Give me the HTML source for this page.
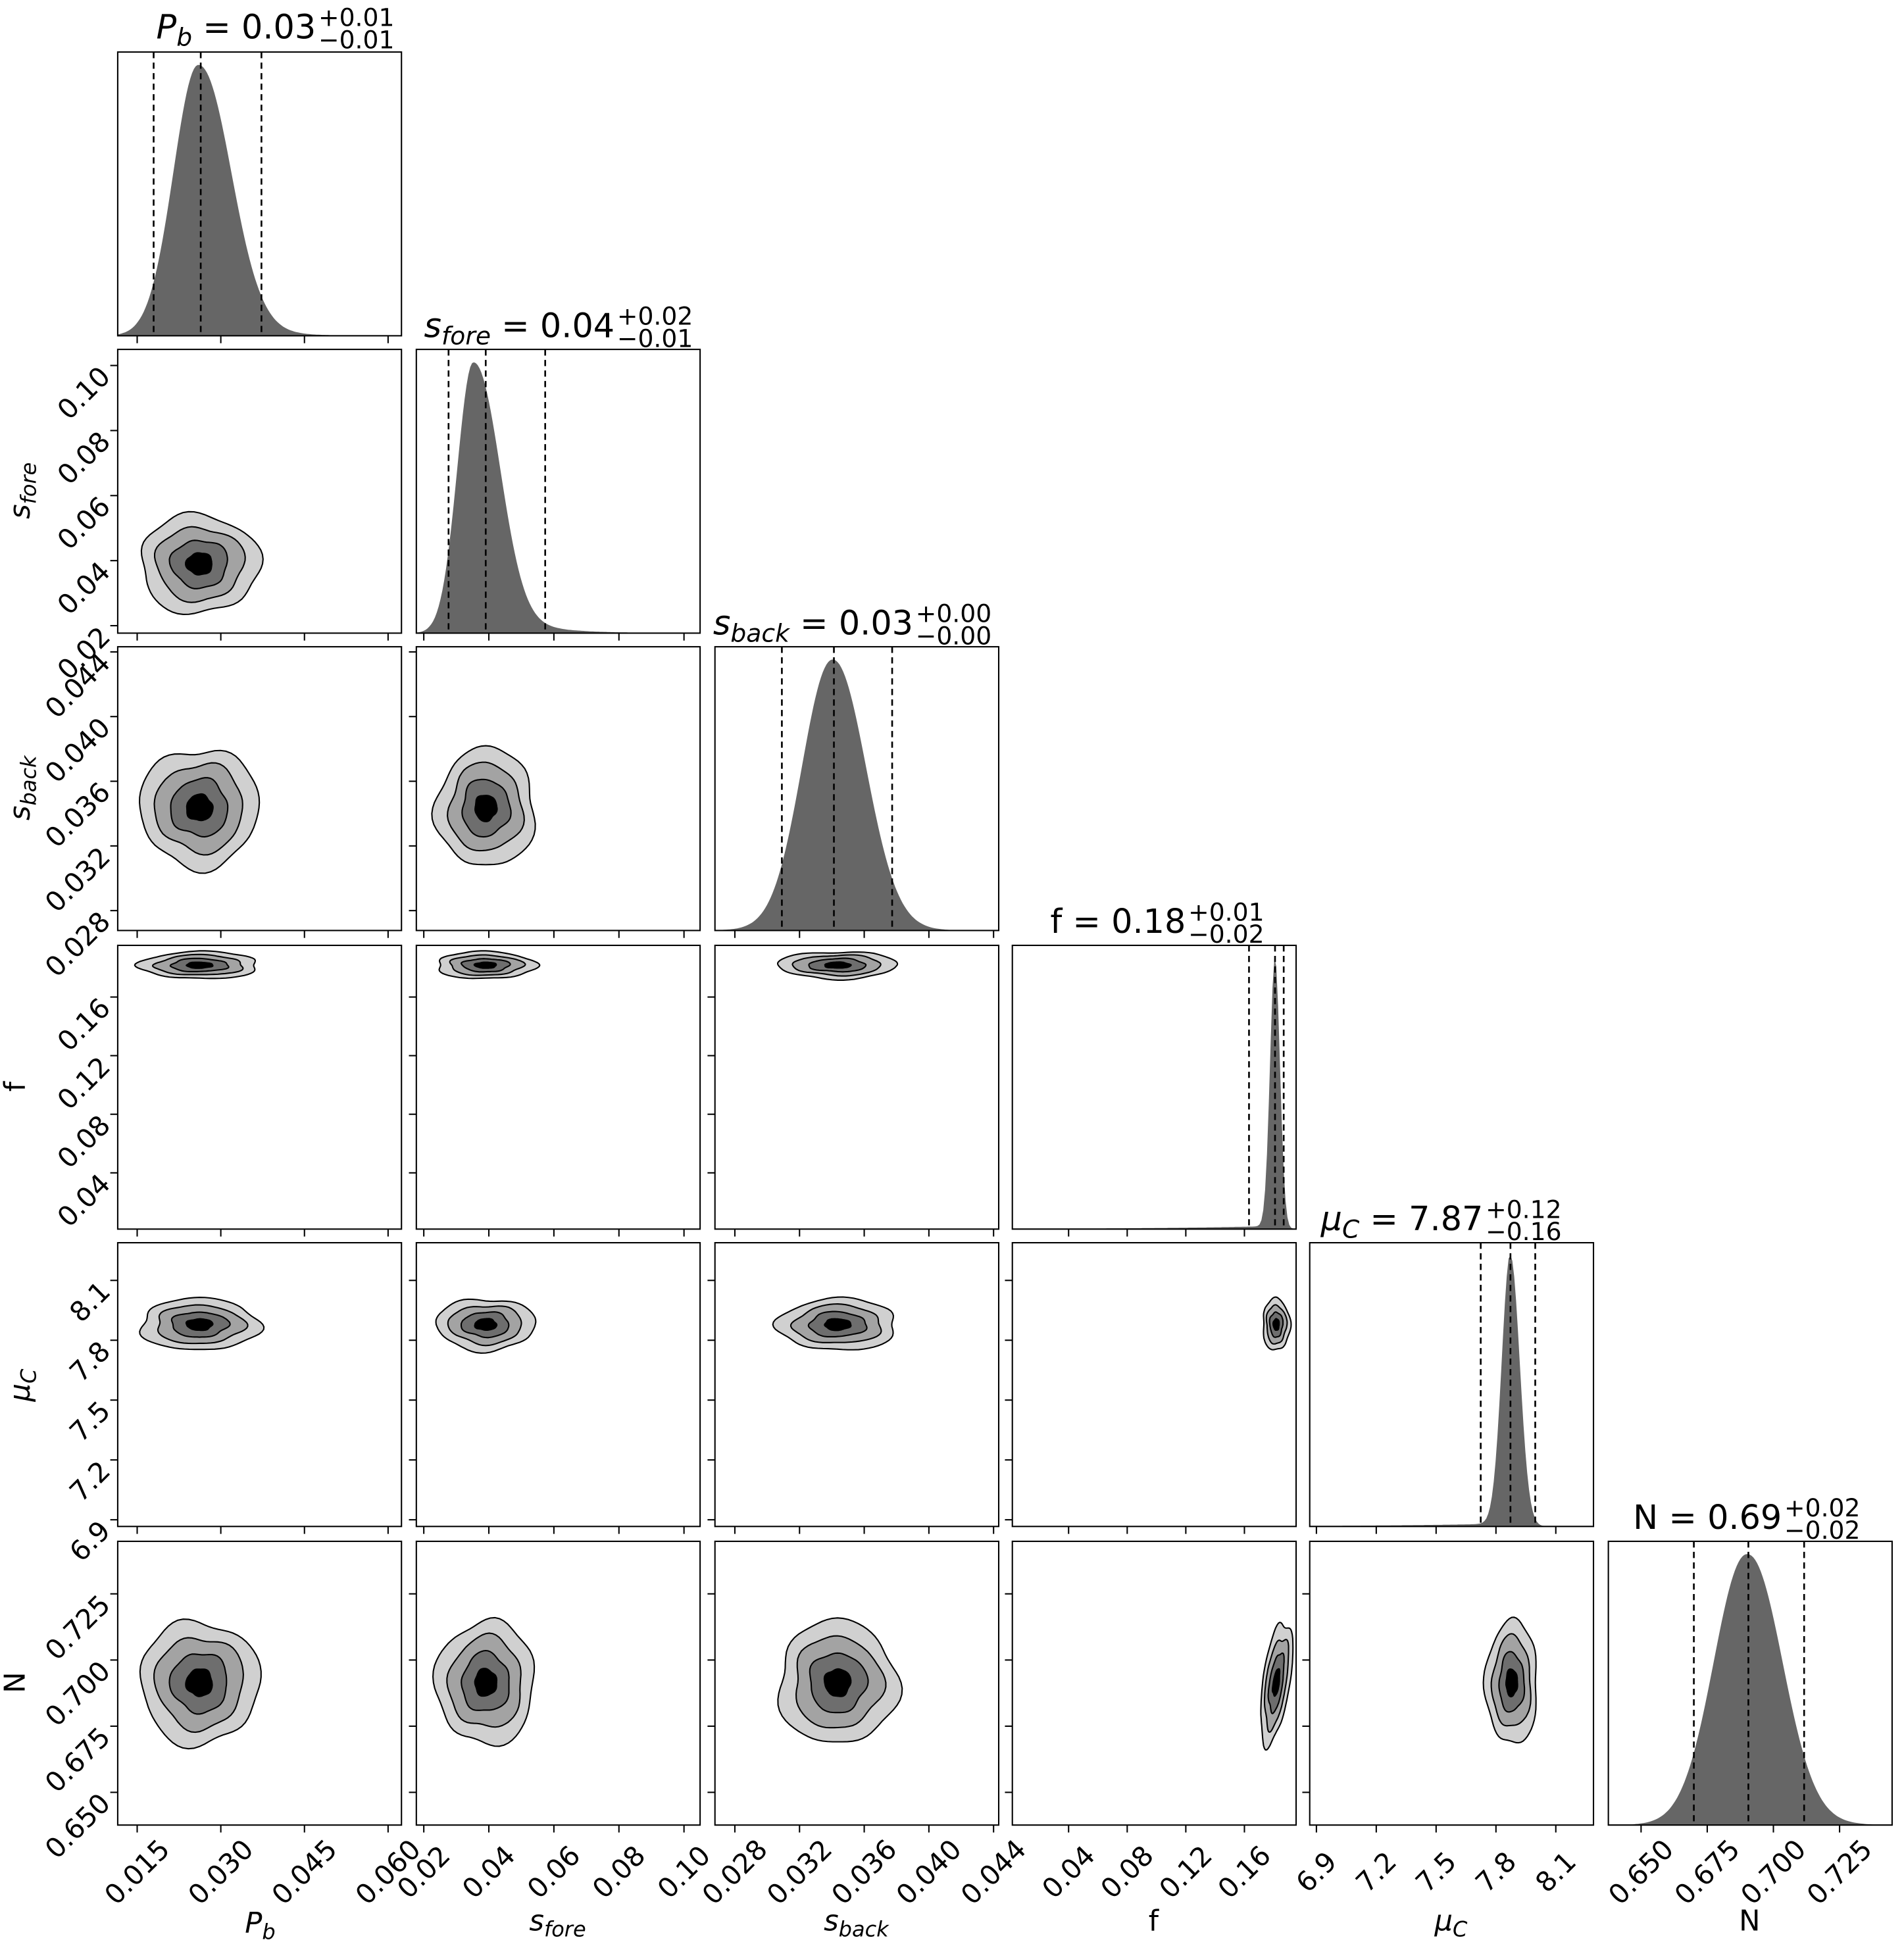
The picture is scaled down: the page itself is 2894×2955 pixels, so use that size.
<!DOCTYPE html>
<html><head><meta charset="utf-8"><style>
html,body{margin:0;padding:0;background:#fff;}
svg{display:block;font-family:"DejaVu Sans","Liberation Sans",sans-serif;}
</style></head><body>
<svg id="s" width="2894" height="2955" viewBox="0 0 1536.6 1569" preserveAspectRatio="none" xmlns="http://www.w3.org/2000/svg">
<rect x="0" y="0" width="1537" height="1570" fill="#fff"/>
<g id="g"></g>
<g font-size="27" fill="#000">
<text x="255" y="31" text-anchor="end"><tspan font-style="italic">P</tspan><tspan font-style="italic" font-size="20" dy="6">b</tspan><tspan dy="-6"> = 0.03</tspan></text>
<text x="257" y="21" font-size="20">+0.01</text><text x="257" y="39" font-size="20">−0.01</text>
<text x="496" y="272" text-anchor="end"><tspan font-style="italic">s</tspan><tspan font-style="italic" font-size="20" dy="6">fore</tspan><tspan dy="-6"> = 0.04</tspan></text>
<text x="498" y="262" font-size="20">+0.02</text><text x="498" y="280" font-size="20">−0.01</text>
<text x="737" y="512" text-anchor="end"><tspan font-style="italic">s</tspan><tspan font-style="italic" font-size="20" dy="6">back</tspan><tspan dy="-6"> = 0.03</tspan></text>
<text x="739" y="502" font-size="20">+0.00</text><text x="739" y="520" font-size="20">−0.00</text>
<text x="957" y="753" text-anchor="end">f = 0.18</text>
<text x="959" y="743" font-size="20">+0.01</text><text x="959" y="761" font-size="20">−0.02</text>
<text x="1197" y="993" text-anchor="end"><tspan font-style="italic">μ</tspan><tspan font-style="italic" font-size="20" dy="6">C</tspan><tspan dy="-6"> = 7.87</tspan></text>
<text x="1199" y="983" font-size="20">+0.12</text><text x="1199" y="1001" font-size="20">−0.16</text>
<text x="1438" y="1234" text-anchor="end">N = 0.69</text>
<text x="1440" y="1224" font-size="20">+0.02</text><text x="1440" y="1242" font-size="20">−0.02</text>
</g>
<g font-size="23" fill="#000">
<text x="210" y="1560" text-anchor="middle"><tspan font-style="italic">P</tspan><tspan font-style="italic" font-size="17" dy="5">b</tspan></text>
<text x="450" y="1558" text-anchor="middle"><tspan font-style="italic">s</tspan><tspan font-style="italic" font-size="17" dy="5">fore</tspan></text>
<text x="691" y="1558" text-anchor="middle"><tspan font-style="italic">s</tspan><tspan font-style="italic" font-size="17" dy="5">back</tspan></text>
<text x="931" y="1558" text-anchor="middle">f</text>
<text x="1171" y="1558" text-anchor="middle"><tspan font-style="italic">μ</tspan><tspan font-style="italic" font-size="17" dy="5">C</tspan></text>
<text x="1412" y="1558" text-anchor="middle">N</text>
<text transform="translate(24,396) rotate(-90)" text-anchor="middle"><tspan font-style="italic">s</tspan><tspan font-style="italic" font-size="17" dy="5">fore</tspan></text>
<text transform="translate(24,636) rotate(-90)" text-anchor="middle"><tspan font-style="italic">s</tspan><tspan font-style="italic" font-size="17" dy="5">back</tspan></text>
<text transform="translate(20,877) rotate(-90)" text-anchor="middle">f</text>
<text transform="translate(24,1118) rotate(-90)" text-anchor="middle"><tspan font-style="italic">μ</tspan><tspan font-style="italic" font-size="17" dy="5">C</tspan></text>
<text transform="translate(20,1358) rotate(-90)" text-anchor="middle">N</text>
</g>
</svg>
<script>
var NS="http://www.w3.org/2000/svg",g=document.getElementById("g");
function el(t,a){var e=document.createElementNS(NS,t);for(var k in a)e.setAttribute(k,a[k]);g.appendChild(e);return e;}
var L=[95,336,577,817,1057,1298],T=[42,282,522,763,1003,1244],S=229;
var V=[
{lo:0.01151,sc:4500,ticks:[0.015,0.030,0.045,0.060],lab:["0.015","0.030","0.045","0.060"],p:65,sL:20,sR:25,rt:0.06,rtl:25,lt:0,dash:[124,162,211],c:66,R:48},
{lo:0.01771,sc:2625,ticks:[0.02,0.04,0.06,0.08,0.10],lab:["0.02","0.04","0.06","0.08","0.10"],p:46,sL:13,sR:20,rt:0.08,rtl:30,lt:0,dash:[362,392,440],c:56,R:40},
{lo:0.02677,sc:13050,ticks:[0.028,0.032,0.036,0.040,0.044],lab:["0.028","0.032","0.036","0.040","0.044"],p:95,sL:24,sR:26,rt:0.03,rtl:20,lt:0.03,dash:[631,673,720],c:99,R:48},
{lo:0.00161,sc:1182.5,ticks:[0.04,0.08,0.12,0.16],lab:["0.04","0.08","0.12","0.16"],p:212,sL:4,sR:4,rt:0,rtl:1,lt:1,dash:[1008,1029,1036],c:213,R:11},
{lo:6.8665,sc:161,ticks:[6.9,7.2,7.5,7.8,8.1],lab:["6.9","7.2","7.5","7.8","8.1"],p:162,sL:7,sR:7.5,rt:0,rtl:1,lt:1,dash:[1195,1219,1239],c:163,R:21},
{lo:0.63764,sc:2136,ticks:[0.650,0.675,0.700,0.725],lab:["0.650","0.675","0.700","0.725"],p:112,sL:26,sR:27,rt:0.05,rtl:22,lt:0.03,dash:[1367,1411,1456],c:115,R:50}
];
function pos(v,x){return (x-v.lo)*v.sc;}
for(var i=0;i<6;i++){for(var j=0;j<=i;j++){
 var x0=L[j],y0=T[i],yb=y0+S;
 if(i==j){
  var v=V[i],pts=[[x0,yb]],H=0.955*S;
  for(var x=0;x<=S;x+=1.5){var s=x<v.p?v.sL:v.sR;var h=H*Math.exp(-0.5*Math.pow((x-v.p)/s,2));
   if(x>v.p)h+=H*v.rt*Math.exp(-(x-v.p-s)/v.rtl)*(1-Math.exp(-Math.pow((x-v.p)/s,2)));
   if(v.lt==1&&x<v.p&&x>v.p-170)h+=2.5*Math.exp(-(v.p-x)/90);
   if(v.lt>0&&v.lt<1&&x<v.p)h+=H*v.lt*Math.exp(-(v.p-x-s)/20)*(1-Math.exp(-Math.pow((x-v.p)/s,2)));
   if(h<0.5)h=0.5;if(h>H)h=H;pts.push([x0+x,yb-h]);}
  pts.push([x0+S,yb]);
  el("polygon",{points:pts.map(function(p){return p[0].toFixed(1)+","+p[1].toFixed(1)}).join(" "),fill:"#666"});
  v.dash.forEach(function(d){el("line",{x1:d,y1:y0,x2:d,y2:yb,stroke:"#000","stroke-width":1.4,"stroke-dasharray":"5,3.5"});});
 } else {
  var vx=V[j],vy=V[i],cx=x0+vx.c,cy=yb-vy.c;
  var lv=[1,0.74,0.48,0.22],fl=["#d0d0d0","#a3a3a3","#6e6e6e","#000"];
  var ph=i*1.7+j*2.3;
  var rot=(i==5&&j==3)?8:0;
  var grp=document.createElementNS(NS,"g");grp.setAttribute("transform","rotate("+rot+" "+cx+" "+cy+")");g.appendChild(grp);
  for(var k=0;k<4;k++){var d="";for(var a=0;a<=72;a++){var t=a/72*2*Math.PI;
    var w=1+0.05*Math.sin(3*t+ph+k)+0.035*Math.sin(5*t+ph*2+k*0.5)+0.02*Math.sin(7*t+ph);
    var px=cx+vx.R*lv[k]*w*Math.cos(t),py=cy+vy.R*lv[k]*w*Math.sin(t);d+=(a?"L":"M")+px.toFixed(1)+","+py.toFixed(1);}
   var e=document.createElementNS(NS,"path");e.setAttribute("d",d+"Z");e.setAttribute("fill",fl[k]);e.setAttribute("stroke","#000");e.setAttribute("stroke-width","1.1");grp.appendChild(e);}
 }
 el("rect",{x:x0,y:y0,width:S,height:S,fill:"none",stroke:"#000","stroke-width":1.1});
 V[j].ticks.forEach(function(t,n){var px=x0+pos(V[j],t);if(px<x0-1||px>x0+S+1)return;
  el("line",{x1:px,y1:yb,x2:px,y2:yb+6,stroke:"#000","stroke-width":1.1});
  if(i==5){var tx=el("text",{x:0,y:0,"font-size":22,"text-anchor":"middle","dominant-baseline":"central",transform:"translate("+(px)+","+(yb+38)+") rotate(-45)"});tx.textContent=V[j].lab[n];}
 });
 if(j<i){V[i].ticks.forEach(function(t,n){var py=yb-pos(V[i],t);if(py<y0-1||py>yb+1)return;
  el("line",{x1:x0-6,y1:py,x2:x0,y2:py,stroke:"#000","stroke-width":1.1});
  if(j==0){var tx=el("text",{x:0,y:0,"font-size":22,"text-anchor":"end","dominant-baseline":"central",transform:"translate("+(x0-10)+","+(py+5)+") rotate(-45)"});tx.textContent=V[i].lab[n];}
 });}
}}
</script>
</body></html>
